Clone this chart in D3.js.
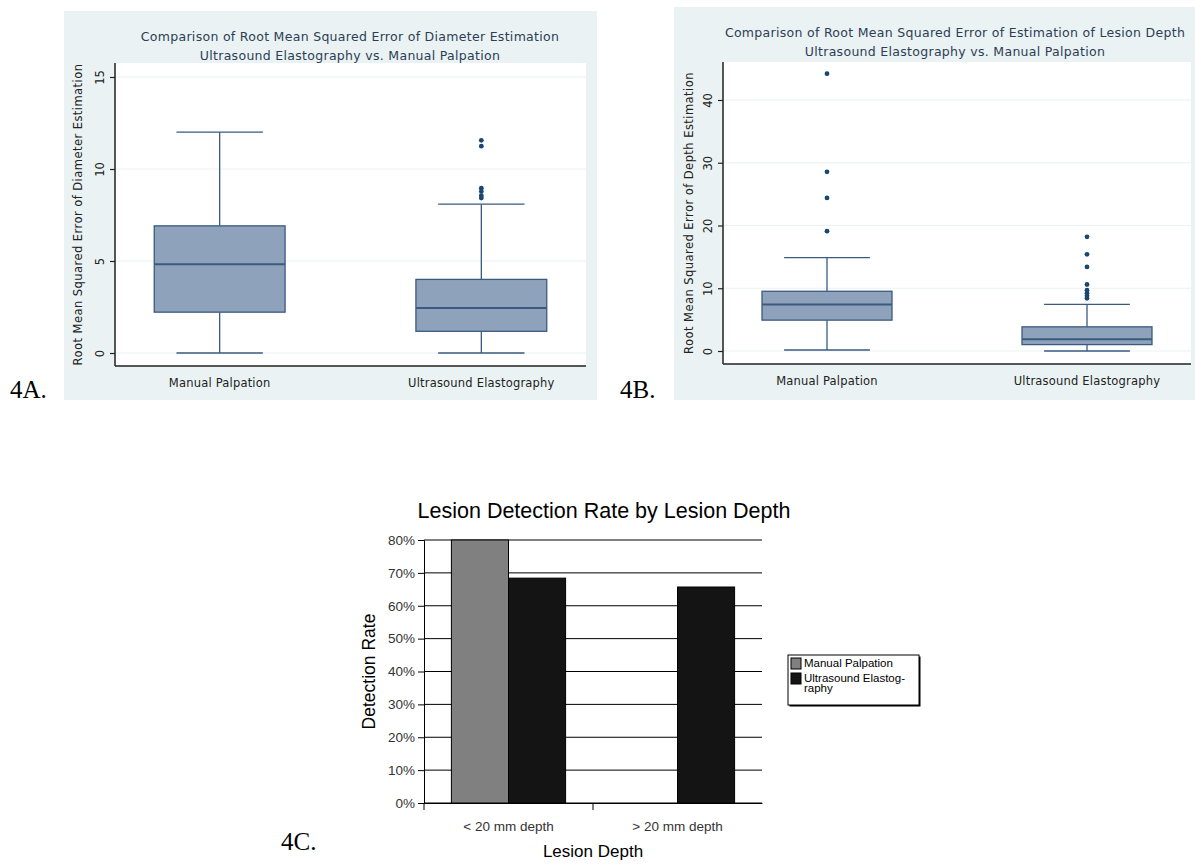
<!DOCTYPE html>
<html>
<head>
<meta charset="utf-8">
<script src="https://cdn.jsdelivr.net/npm/d3@7"></script>
<style>
  body { margin: 0; background: #fff; }
  svg { display: block; }
</style>
</head>
<body>
<svg id="chart" width="1195" height="865"></svg>
<script>
// ---------- DATA ----------
const boxCategories = ["Manual Palpation", "Ultrasound Elastography"];

// 4A: RMSE of diameter estimation
const diamTicks = [0, 5, 10, 15];
const diamMin = [0, 0];
const diamQ1 = [2.22, 1.18];
const diamMedian = [4.82, 2.45];
const diamQ3 = [6.91, 4.0];
const diamMax = [12.0, 8.09];
const diamOutliers = [[], [11.56, 11.24, 8.96, 8.78, 8.55, 8.42]];

// 4B: RMSE of depth estimation
const depthTicks = [0, 10, 20, 30, 40];
const depthMin = [0.16, 0];
const depthQ1 = [4.92, 1.02];
const depthMedian = [7.43, 1.87];
const depthQ3 = [9.52, 3.85];
const depthMax = [14.87, 7.43];
const depthOutliers = [[44.2, 28.56, 24.4, 19.1], [18.2, 15.4, 13.4, 10.6, 9.7, 9.2, 8.8, 8.4]];

// 4C: detection rate
const rateCategories = ["< 20 mm depth", "> 20 mm depth"];
const rateSeries = ["Manual Palpation", "Ultrasound Elastography"];
const manualRate = [0.80, 0];
const elastoRate = [0.684, 0.657];
const rateTicks = [0, 0.1, 0.2, 0.3, 0.4, 0.5, 0.6, 0.7, 0.8];

// ---------- STYLE ----------
const stataBg = "#eaf2f3";
const boxFill = "#8ea3bb";
const boxStroke = "#3a5a80";
const dotColor = "#1a476f";
const stataFont = "'DejaVu Sans', sans-serif";

const svg = d3.select("#chart");
svg.append("rect").attr("width", 1195).attr("height", 865).attr("fill", "#fff");

function stataBox(cfg) {
  const g = svg.append("g");
  g.append("rect").attr("x", cfg.panel[0]).attr("y", cfg.panel[1])
    .attr("width", cfg.panel[2]).attr("height", cfg.panel[3]).attr("fill", stataBg);
  const [L, T, R, B] = cfg.plot;
  g.append("rect").attr("x", L).attr("y", T).attr("width", R - L).attr("height", B - T).attr("fill", "#fff");

  const y = d3.scaleLinear().domain(cfg.yDomain).range(cfg.yRange);
  const x = d3.scalePoint().domain(boxCategories).range([L, R]).padding(0.4);
  const bw = x.step() * 0.5;

  g.selectAll(".grid").data(cfg.ticks).enter().append("line")
    .attr("x1", L).attr("x2", R).attr("y1", d => y(d)).attr("y2", d => y(d))
    .attr("stroke", stataBg).attr("stroke-width", 1.2);

  boxCategories.forEach((c, i) => {
    const cx = x(c);
    g.append("line").attr("x1", cx).attr("x2", cx).attr("y1", y(cfg.max[i])).attr("y2", y(cfg.q3[i]))
      .attr("stroke", boxStroke).attr("stroke-width", 1.3);
    g.append("line").attr("x1", cx).attr("x2", cx).attr("y1", y(cfg.q1[i])).attr("y2", y(cfg.min[i]))
      .attr("stroke", boxStroke).attr("stroke-width", 1.3);
    [cfg.max[i], cfg.min[i]].forEach(v => {
      g.append("line").attr("x1", cx - bw * 0.33).attr("x2", cx + bw * 0.33)
        .attr("y1", y(v)).attr("y2", y(v)).attr("stroke", boxStroke).attr("stroke-width", 1.3);
    });
    g.append("rect").attr("x", cx - bw / 2).attr("y", y(cfg.q3[i]))
      .attr("width", bw).attr("height", y(cfg.q1[i]) - y(cfg.q3[i]))
      .attr("fill", boxFill).attr("stroke", boxStroke).attr("stroke-width", 1.3);
    g.append("line").attr("x1", cx - bw / 2).attr("x2", cx + bw / 2)
      .attr("y1", y(cfg.median[i])).attr("y2", y(cfg.median[i]))
      .attr("stroke", boxStroke).attr("stroke-width", 2);
    g.selectAll(null).data(cfg.outliers[i]).enter().append("circle")
      .attr("cx", cx).attr("cy", d => y(d)).attr("r", 2.4).attr("fill", dotColor);
  });

  const yAxis = d3.axisLeft(y).tickValues(cfg.ticks).tickSize(5).tickFormat(d3.format("d"));
  const ya = g.append("g").attr("transform", `translate(${L},0)`).call(yAxis);
  ya.select(".domain").remove();
  g.append("line").attr("x1", L).attr("x2", L).attr("y1", T).attr("y2", B)
    .attr("stroke", "#222").attr("stroke-width", 1.5);
  ya.selectAll(".tick line").attr("stroke", "#222").attr("stroke-width", 1.2);
  ya.selectAll(".tick text").attr("font-family", stataFont).attr("font-size", 11.5).attr("fill", "#222")
    .attr("x", 0).attr("y", 0).attr("dy", null)
    .attr("text-anchor", "middle")
    .attr("transform", "translate(-11,0) rotate(-90)");
  g.append("line").attr("x1", L).attr("x2", R).attr("y1", B).attr("y2", B)
    .attr("stroke", "#222").attr("stroke-width", 1.5);

  g.selectAll(null).data(boxCategories).enter().append("text")
    .attr("x", d => x(d)).attr("y", cfg.xLabelY).attr("text-anchor", "middle")
    .attr("font-family", stataFont).attr("font-size", 11.5).attr("letter-spacing", 0.2)
    .attr("fill", "#222").text(d => d);

  g.append("text").attr("transform", `translate(${cfg.yTitleX},${(T + B) / 2}) rotate(-90)`)
    .attr("text-anchor", "middle").attr("font-family", stataFont).attr("font-size", 11.5)
    .attr("letter-spacing", 0.45).attr("fill", "#222").text(cfg.yTitle);

  cfg.titles.forEach((t, k) => {
    g.append("text").attr("x", cfg.titleX).attr("y", cfg.titleY[k]).attr("text-anchor", "middle")
      .attr("font-family", stataFont).attr("font-size", 12.5).attr("letter-spacing", 0.3)
      .attr("fill", "#2c3e55").text(t);
  });
}

stataBox({
  panel: [64, 11, 533, 389],
  plot: [115, 63, 586, 366],
  yDomain: [0, 15], yRange: [353, 77],
  ticks: diamTicks,
  min: diamMin, q1: diamQ1, median: diamMedian, q3: diamQ3, max: diamMax, outliers: diamOutliers,
  xLabelY: 387, yTitleX: 82, yTitle: "Root Mean Squared Error of Diameter Estimation",
  titles: ["Comparison of Root Mean Squared Error of Diameter Estimation", "Ultrasound Elastography vs. Manual Palpation"],
  titleX: 350, titleY: [41, 60]
});

stataBox({
  panel: [674, 7, 521, 393],
  plot: [723, 62, 1191, 364],
  yDomain: [0, 40], yRange: [351, 100],
  ticks: depthTicks,
  min: depthMin, q1: depthQ1, median: depthMedian, q3: depthQ3, max: depthMax, outliers: depthOutliers,
  xLabelY: 385, yTitleX: 693, yTitle: "Root Mean Squared Error of Depth Estimation",
  titles: ["Comparison of Root Mean Squared Error of Estimation of Lesion Depth", "Ultrasound Elastography vs. Manual Palpation"],
  titleX: 955, titleY: [37, 56]
});

const serif = "'Liberation Serif', 'Times New Roman', serif";
[["4A.", 10, 398], ["4B.", 620, 398], ["4C.", 281, 850]].forEach(([t, x, y]) => {
  svg.append("text").attr("x", x).attr("y", y).attr("font-family", serif).attr("font-size", 25)
    .attr("fill", "#000").text(t);
});

// ---------- 4C ----------
(function () {
  const L = 424, R = 762;
  const arial = "'Liberation Sans', Arial, sans-serif";
  const g = svg.append("g");
  const y = d3.scaleLinear().domain([0, 0.8]).range([803, 540]);
  const x0 = d3.scaleBand().domain(rateCategories).range([L, R]).padding(0);
  const x1 = d3.scaleBand().domain(rateSeries).range([0, x0.bandwidth()]).paddingInner(0).paddingOuter(0.48);
  const colors = ["#808080", "#141414"];

  g.selectAll(null).data(rateTicks).enter().append("line")
    .attr("x1", L).attr("x2", R).attr("y1", d => y(d)).attr("y2", d => y(d))
    .attr("stroke", "#000").attr("stroke-width", 1);

  const seriesVals = [manualRate, elastoRate];
  rateCategories.forEach((c, ci) => {
    rateSeries.forEach((s, si) => {
      const v = seriesVals[si][ci];
      if (v <= 0) return;
      g.append("rect").attr("x", x0(c) + x1(s)).attr("y", y(v))
        .attr("width", x1.bandwidth()).attr("height", y(0) - y(v))
        .attr("fill", colors[si]).attr("stroke", "#000").attr("stroke-width", 1);
    });
  });

  const ya = g.append("g").attr("transform", `translate(${L},0)`)
    .call(d3.axisLeft(y).tickValues(rateTicks).tickSize(6).tickPadding(3).tickFormat(d3.format(".0%")));
  ya.select(".domain").attr("stroke", "#000");
  ya.selectAll(".tick line").attr("stroke", "#000");
  ya.selectAll(".tick text").attr("font-family", arial).attr("font-size", 13.5).attr("fill", "#333");

  const xa = g.append("g").attr("transform", `translate(0,${y(0)})`)
    .call(d3.axisBottom(x0).tickSize(0));
  xa.select(".domain").attr("stroke", "#000");
  xa.selectAll(".tick text").attr("font-family", arial).attr("font-size", 13.5).attr("fill", "#333")
    .attr("y", 28).attr("dy", null);
  const sep = [L, x0(rateCategories[1])];
  g.selectAll(null).data(sep).enter().append("line")
    .attr("x1", d => d).attr("x2", d => d).attr("y1", y(0)).attr("y2", y(0) + 7)
    .attr("stroke", "#000");

  svg.append("text").attr("x", 604).attr("y", 518).attr("text-anchor", "middle")
    .attr("font-family", arial).attr("font-size", 21.5).attr("fill", "#000")
    .text("Lesion Detection Rate by Lesion Depth");
  svg.append("text").attr("x", (L + R) / 2).attr("y", 857).attr("text-anchor", "middle")
    .attr("font-family", arial).attr("font-size", 17).attr("fill", "#000").text("Lesion Depth");
  svg.append("text").attr("transform", `translate(375,${(540 + 803) / 2}) rotate(-90)`)
    .attr("text-anchor", "middle").attr("font-family", arial).attr("font-size", 17.5).attr("fill", "#000")
    .text("Detection Rate");

  const lg = svg.append("g").attr("transform", "translate(788,655)");
  lg.append("rect").attr("x", 1.5).attr("y", 1.5).attr("width", 131).attr("height", 50).attr("fill", "#000");
  lg.append("rect").attr("width", 131).attr("height", 50).attr("fill", "#fff").attr("stroke", "#000");
  const legendLines = [["Manual Palpation"], ["Ultrasound Elastog-", "raphy"]];
  rateSeries.forEach((s, i) => {
    const yy = 3 + i * 15;
    lg.append("rect").attr("x", 3).attr("y", yy).attr("width", 10).attr("height", 11)
      .attr("fill", colors[i]).attr("stroke", "#000");
    legendLines[i].forEach((t, k) => {
      lg.append("text").attr("x", 16).attr("y", yy + 9 + k * 10).attr("font-family", arial)
        .attr("font-size", 11.5).attr("fill", "#000").text(t);
    });
  });
})();
</script>
</body>
</html>
